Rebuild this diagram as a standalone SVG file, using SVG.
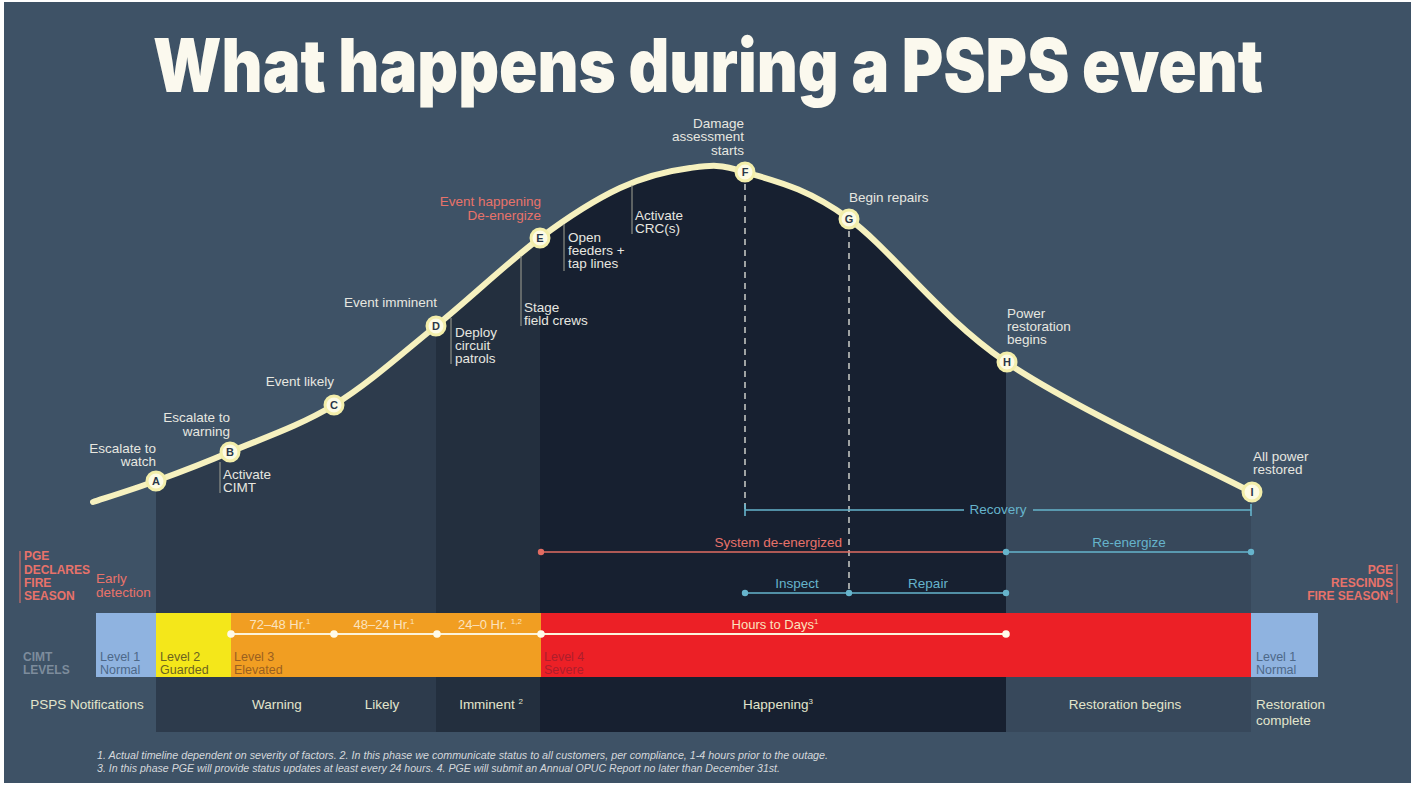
<svg xmlns="http://www.w3.org/2000/svg" width="1417" height="786" viewBox="0 0 1417 786">
<defs>
<style>
.t{font-family:"Liberation Sans",Arial,sans-serif;font-size:13.5px;fill:#e7e7e0}
.r{text-anchor:end}
.c{text-anchor:middle}
.coral{fill:#e8726a}
.teal{fill:#66b4cc}
.bold{font-weight:bold;font-size:12px}
.sup{font-size:8px}
.ph{fill:#e2e5cc}
.bar{fill:#fbe3bf;font-size:13px}
.foot{font-family:"Liberation Sans",Arial,sans-serif;font-style:italic;font-size:10.5px;fill:#d5d8dc}
.sub{stroke:#a3a394;stroke-width:1}
.dash{stroke:#e8e8e0;stroke-width:1.3;stroke-dasharray:6 5;fill:none}
.tl{stroke:#66b4cc;stroke-width:1.6;fill:none}
.tlc{stroke:#e26c62;stroke-width:1.6;fill:none}
.node circle{fill:#fdfbe4;stroke:#f3eeaa;stroke-width:3}
.node text{font-family:"Liberation Sans",Arial,sans-serif;font-weight:bold;font-size:11px;fill:#2b3748;text-anchor:middle}
</style>
<clipPath id="under">
<path d="M93,502 C103.5,498.5 133.2,489.3 156,481 C178.8,472.7 200.3,464.7 230,452 C259.7,439.3 299.7,426 334,405 C368.3,384 401.7,353.8 436,326 C470.3,298.2 509.3,261 540,238 C570.7,215 595,199.7 620,188 C645,176.3 669.2,170.7 690,168 C710.8,165.3 718.7,163.7 745,172 C771.3,180.3 804.5,186.3 848,218 C891.5,249.7 938.8,316.3 1006,362 C1073.2,407.7 1210.2,470.3 1251,492 L1251,732 L93,732 Z"/>
</clipPath>
</defs>

<rect x="0" y="0" width="1417" height="786" fill="#ffffff"/>
<rect x="4" y="2" width="1407" height="781" fill="#3e5266"/>

<g id="columns" clip-path="url(#under)">
<rect x="156" y="150" width="280" height="582" fill="#2d3b4c"/>
<rect x="436" y="150" width="104" height="582" fill="#232f3e"/>
<rect x="540" y="150" width="466" height="582" fill="#172030"/>
<rect x="1006" y="150" width="245" height="582" fill="#37485b"/>
</g>

<text transform="translate(153,92) scale(0.87,1)" x="0" y="0" textLength="1276" lengthAdjust="spacingAndGlyphs" font-family="Inter, 'Liberation Sans', sans-serif" font-weight="900" font-size="74" fill="#fbf9ee">What happens during a PSPS event</text>

<g id="bar">
<rect x="96" y="613" width="60" height="64" fill="#8fb3e0"/>
<rect x="156" y="613" width="75" height="64" fill="#f4e71a"/>
<rect x="231" y="613" width="310" height="64" fill="#f19e22"/>
<rect x="541" y="613" width="710" height="64" fill="#ec2026"/>
<rect x="1251" y="613" width="67" height="64" fill="#8fb3e0"/>
</g>

<g id="connectors">
<path d="M93,502 C103.5,498.5 133.2,489.3 156,481 C178.8,472.7 200.3,464.7 230,452 C259.7,439.3 299.7,426 334,405 C368.3,384 401.7,353.8 436,326 C470.3,298.2 509.3,261 540,238 C570.7,215 595,199.7 620,188 C645,176.3 669.2,170.7 690,168 C710.8,165.3 718.7,163.7 745,172 C771.3,180.3 804.5,186.3 848,218 C891.5,249.7 938.8,316.3 1006,362 C1073.2,407.7 1210.2,470.3 1251,492" fill="none" stroke="#f6f1bf" stroke-width="6" stroke-linecap="round"/>
<line class="dash" x1="745" y1="184" x2="745" y2="512"/>
<line class="dash" x1="849" y1="231" x2="849" y2="592"/>
<line class="sub" x1="220" y1="462" x2="220" y2="493"/>
<line class="sub" x1="451" y1="318" x2="451" y2="364"/>
<line class="sub" x1="521" y1="256" x2="521" y2="326"/>
<line class="sub" x1="564" y1="224" x2="564" y2="271"/>
<line class="sub" x1="632" y1="185" x2="632" y2="234"/>
<line x1="20" y1="551" x2="20" y2="603" stroke="#e8726a" stroke-width="1"/>
<line x1="1397" y1="564" x2="1397" y2="603" stroke="#e8726a" stroke-width="1"/>
<path class="tl" d="M745,510 H964 M1033,510 H1251 M745,504 V516 M1251,504 V516"/>
<line class="tlc" x1="541" y1="552" x2="1006" y2="552"/>
<circle cx="541" cy="552" r="3.2" fill="#e26c62"/>
<line class="tl" x1="1006" y1="552" x2="1251" y2="552"/>
<circle cx="1006" cy="552" r="3.2" fill="#66b4cc"/>
<circle cx="1251" cy="552" r="3.2" fill="#66b4cc"/>
<line class="tl" x1="745" y1="593" x2="1006" y2="593"/>
<circle cx="745" cy="593" r="3.2" fill="#66b4cc"/>
<circle cx="849" cy="593" r="3.2" fill="#66b4cc"/>
<circle cx="1006" cy="593" r="3.2" fill="#66b4cc"/>
<line x1="231" y1="634" x2="1006" y2="634" stroke="#fbf3dc" stroke-width="1.8"/>
<g fill="#fffbea">
<circle cx="231" cy="634" r="3.8"/>
<circle cx="334" cy="634" r="3.8"/>
<circle cx="437" cy="634" r="3.8"/>
<circle cx="541" cy="634" r="3.8"/>
<circle cx="1006" cy="634" r="3.8"/>
</g>
</g>

<g id="node-A" class="node"><circle cx="156" cy="481" r="9"/><text x="156" y="485">A</text></g>
<g id="node-B" class="node"><circle cx="230" cy="452" r="9"/><text x="230" y="456">B</text></g>
<g id="node-C" class="node"><circle cx="334" cy="405" r="9"/><text x="334" y="409">C</text></g>
<g id="node-D" class="node"><circle cx="436" cy="326" r="9"/><text x="436" y="330">D</text></g>
<g id="node-E" class="node"><circle cx="540" cy="238" r="9"/><text x="540" y="242">E</text></g>
<g id="node-F" class="node"><circle cx="745" cy="172" r="9"/><text x="745" y="176">F</text></g>
<g id="node-G" class="node"><circle cx="849" cy="219" r="9"/><text x="849" y="223">G</text></g>
<g id="node-H" class="node"><circle cx="1007" cy="362" r="9"/><text x="1007" y="366">H</text></g>
<g id="node-I" class="node"><circle cx="1252" cy="492" r="9"/><text x="1252" y="496">I</text></g>

<g id="curve-labels">
<text class="t r" x="156" y="453">Escalate to</text>
<text class="t r" x="156" y="466">watch</text>
<text class="t r" x="230" y="422">Escalate to</text>
<text class="t r" x="230" y="436">warning</text>
<text class="t r" x="334" y="386">Event likely</text>
<text class="t r" x="437" y="307">Event imminent</text>
<text class="t r coral" x="541" y="206">Event happening</text>
<text class="t r coral" x="541" y="220">De-energize</text>
<text class="t r" x="744" y="128">Damage</text>
<text class="t r" x="744" y="141">assessment</text>
<text class="t r" x="744" y="155">starts</text>
<text class="t" x="849" y="202">Begin repairs</text>
<text class="t" x="1007" y="318">Power</text>
<text class="t" x="1007" y="331">restoration</text>
<text class="t" x="1007" y="344">begins</text>
<text class="t" x="1253" y="461">All power</text>
<text class="t" x="1253" y="474">restored</text>
<text class="t" x="223" y="479">Activate</text>
<text class="t" x="223" y="492">CIMT</text>
<text class="t" x="455" y="337">Deploy</text>
<text class="t" x="455" y="350">circuit</text>
<text class="t" x="455" y="363">patrols</text>
<text class="t" x="524" y="312">Stage</text>
<text class="t" x="524" y="325">field crews</text>
<text class="t" x="568" y="242">Open</text>
<text class="t" x="568" y="255">feeders +</text>
<text class="t" x="568" y="268">tap lines</text>
<text class="t" x="635" y="220">Activate</text>
<text class="t" x="635" y="233">CRC(s)</text>
</g>

<g id="timeline-labels">
<text class="t c teal" x="998" y="514">Recovery</text>
<text class="t r coral" x="842" y="547">System de-energized</text>
<text class="t c teal" x="1129" y="547">Re-energize</text>
<text class="t c teal" x="797" y="588">Inspect</text>
<text class="t c teal" x="928" y="588">Repair</text>
</g>

<g id="side-labels">
<text class="t bold coral" x="24" y="560">PGE</text>
<text class="t bold coral" x="24" y="574">DECLARES</text>
<text class="t bold coral" x="24" y="587">FIRE</text>
<text class="t bold coral" x="24" y="600">SEASON</text>
<text class="t coral" x="96" y="583">Early</text>
<text class="t coral" x="96" y="597">detection</text>
<text class="t bold coral r" x="1393" y="574">PGE</text>
<text class="t bold coral r" x="1393" y="587">RESCINDS</text>
<text class="t bold coral r" x="1393" y="600">FIRE SEASON<tspan class="sup" dy="-5">4</tspan></text>
<text class="t bold" x="23" y="661" style="fill:#7d8c9c">CIMT</text>
<text class="t bold" x="23" y="674" style="fill:#7d8c9c">LEVELS</text>
</g>

<g id="level-labels">
<text class="t" x="100" y="661" style="fill:#4d6888;font-size:12.5px">Level 1</text>
<text class="t" x="100" y="674" style="fill:#4d6888;font-size:12.5px">Normal</text>
<text class="t" x="160" y="661" style="fill:#6b6320;font-size:12.5px">Level 2</text>
<text class="t" x="160" y="674" style="fill:#6b6320;font-size:12.5px">Guarded</text>
<text class="t" x="234" y="661" style="fill:#9a6020;font-size:12.5px">Level 3</text>
<text class="t" x="234" y="674" style="fill:#9a6020;font-size:12.5px">Elevated</text>
<text class="t" x="544" y="661" style="fill:#ad1e2c;font-size:12.5px">Level 4</text>
<text class="t" x="544" y="674" style="fill:#ad1e2c;font-size:12.5px">Severe</text>
<text class="t" x="1256" y="661" style="fill:#4d6888;font-size:12.5px">Level 1</text>
<text class="t" x="1256" y="674" style="fill:#4d6888;font-size:12.5px">Normal</text>
</g>

<g id="bar-labels">
<text class="t bar c" x="280" y="629">72–48 Hr.<tspan class="sup" dy="-5">1</tspan></text>
<text class="t bar c" x="384" y="629">48–24 Hr.<tspan class="sup" dy="-5">1</tspan></text>
<text class="t bar c" x="490" y="629">24–0  Hr. <tspan class="sup" dy="-5">1,2</tspan></text>
<text class="t bar c" x="775" y="629">Hours to Days<tspan class="sup" dy="-5">1</tspan></text>
</g>

<g id="phase-labels">
<text class="t ph c" x="87" y="709">PSPS Notifications</text>
<text class="t ph c" x="277" y="709">Warning</text>
<text class="t ph c" x="382" y="709">Likely</text>
<text class="t ph c" x="491" y="709">Imminent <tspan class="sup" dy="-5">2</tspan></text>
<text class="t ph c" x="778" y="709">Happening<tspan class="sup" dy="-5">3</tspan></text>
<text class="t ph c" x="1125" y="709">Restoration begins</text>
<text class="t ph" x="1256" y="709">Restoration</text>
<text class="t ph" x="1256" y="725">complete</text>
</g>

<g id="footnotes">
<text class="foot" x="97" y="759" textLength="731" lengthAdjust="spacingAndGlyphs">1. Actual timeline dependent on severity of factors.  2. In this phase we communicate status to all customers, per compliance, 1-4 hours prior to the outage.</text>
<text class="foot" x="97" y="772" textLength="683" lengthAdjust="spacingAndGlyphs">3. In this phase PGE will provide status updates at least every 24 hours.  4. PGE will submit an Annual OPUC Report no later than December 31st.</text>
</g>
</svg>
